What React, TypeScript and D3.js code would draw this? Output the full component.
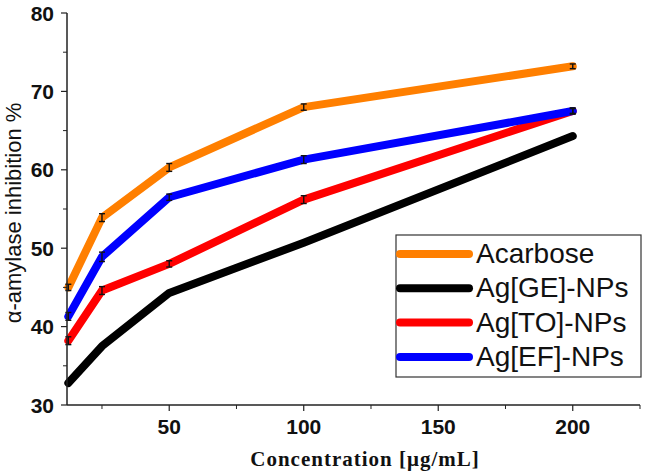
import React, { useEffect, useRef } from 'react';
import * as d3 from 'd3';

const concentrations = [12.5, 25, 50, 100, 200];
const seriesNames = ['Acarbose', 'Ag[GE]-NPs', 'Ag[TO]-NPs', 'Ag[EF]-NPs'];
const seriesColors = ['#FF7F00', '#000000', '#FF0000', '#0000FF'];
const acarbose = [45.0, 53.9, 60.3, 68.0, 73.2];
const acarboseErr = [0.4, 0.5, 0.5, 0.4, 0.3];
const agGE = [32.8, 37.5, 44.3, 50.7, 64.3];
const agGEErr = [0, 0, 0, 0, 0];
const agTO = [38.2, 44.6, 48.0, 56.2, 67.5];
const agTOErr = [0.5, 0.5, 0.4, 0.5, 0.3];
const agEF = [41.3, 48.9, 56.5, 61.3, 67.5];
const agEFErr = [0.5, 0.6, 0.4, 0.5, 0.4];
const xTicks = [50, 100, 150, 200];
const xMinor = [25, 75, 125, 175, 225];
const yTicks = [30, 40, 50, 60, 70, 80];
const yMinor = [35, 45, 55, 65, 75];

const App = () => {
  const svgRef = useRef<SVGSVGElement>(null);

  useEffect(() => {
    const width = 645;
    const height = 474;
    const svg = d3.select(svgRef.current)
      .attr('width', width)
      .attr('height', height);
    svg.selectAll('*').remove();

    const x = d3.scaleLinear().domain([12, 225]).range([67, 640]);
    const y = d3.scaleLinear().domain([30, 80]).range([405, 13]);

    const values = [acarbose, agGE, agTO, agEF];
    const errs = [acarboseErr, agGEErr, agTOErr, agEFErr];

    const line = d3.line<number>()
      .x((_, i) => x(concentrations[i]))
      .y(d => y(d));

    values.forEach((vals, s) => {
      svg.append('path')
        .attr('d', line(vals))
        .attr('fill', 'none')
        .attr('stroke', seriesColors[s])
        .attr('stroke-width', 8)
        .attr('stroke-linejoin', 'round')
        .attr('stroke-linecap', 'round');
    });

    // error bars
    values.forEach((vals, s) => {
      const g = svg.append('g').attr('stroke', '#111').attr('stroke-width', 1.4);
      vals.forEach((v, i) => {
        const e = errs[s][i];
        if (!e) return;
        const cx = x(concentrations[i]);
        g.append('line').attr('x1', cx).attr('x2', cx).attr('y1', y(v - e)).attr('y2', y(v + e));
        g.append('line').attr('x1', cx - 3).attr('x2', cx + 3).attr('y1', y(v - e)).attr('y2', y(v - e));
        g.append('line').attr('x1', cx - 3).attr('x2', cx + 3).attr('y1', y(v + e)).attr('y2', y(v + e));
      });
    });

    // axes
    const axisColor = '#222';
    svg.append('line')
      .attr('x1', x(12)).attr('x2', x(225)).attr('y1', y(30)).attr('y2', y(30))
      .attr('stroke', axisColor).attr('stroke-width', 1.5);
    svg.append('line')
      .attr('x1', x(12)).attr('x2', x(12)).attr('y1', y(30)).attr('y2', y(80))
      .attr('stroke', axisColor).attr('stroke-width', 1.5);

    xTicks.forEach(t => {
      svg.append('line').attr('x1', x(t)).attr('x2', x(t)).attr('y1', y(30)).attr('y2', y(30) + 6)
        .attr('stroke', axisColor).attr('stroke-width', 1.2);
      svg.append('text').attr('x', x(t)).attr('y', 434).attr('text-anchor', 'middle')
        .attr('font-family', 'Liberation Sans, Arial, sans-serif').attr('font-weight', 'bold')
        .attr('font-size', 21).attr('fill', '#111').text(t);
    });
    xMinor.forEach(t => {
      svg.append('line').attr('x1', x(t)).attr('x2', x(t)).attr('y1', y(30)).attr('y2', y(30) + 4)
        .attr('stroke', axisColor).attr('stroke-width', 1);
    });
    yTicks.forEach(t => {
      svg.append('line').attr('x1', x(12) - 6).attr('x2', x(12)).attr('y1', y(t)).attr('y2', y(t))
        .attr('stroke', axisColor).attr('stroke-width', 1.2);
      svg.append('text').attr('x', 54).attr('y', y(t) + 7.5).attr('text-anchor', 'end')
        .attr('font-family', 'Liberation Sans, Arial, sans-serif').attr('font-weight', 'bold')
        .attr('font-size', 21).attr('fill', '#111').text(t);
    });
    yMinor.forEach(t => {
      svg.append('line').attr('x1', x(12) - 4).attr('x2', x(12)).attr('y1', y(t)).attr('y2', y(t))
        .attr('stroke', axisColor).attr('stroke-width', 1);
    });

    svg.append('text')
      .attr('transform', `translate(21,${(y(30) + y(80)) / 2 + 4}) rotate(-90)`)
      .attr('text-anchor', 'middle')
      .attr('font-family', 'Liberation Sans, Arial, sans-serif')
      .attr('font-size', 22).attr('fill', '#111')
      .text('α-amylase inhibition %');

    svg.append('text')
      .attr('x', 365).attr('y', 466).attr('text-anchor', 'middle')
      .attr('font-family', 'Liberation Serif, Times New Roman, serif').attr('font-weight', 'bold')
      .attr('font-size', 21).attr('letter-spacing', 1).attr('fill', '#111')
      .text('Concentration [μg/mL]');

    // legend
    const legend = svg.append('g');
    legend.append('rect').attr('x', 396).attr('y', 235).attr('width', 245).attr('height', 142)
      .attr('fill', '#fff').attr('stroke', '#333').attr('stroke-width', 1.2);
    seriesNames.forEach((name, i) => {
      const ly = 254 + i * 34.3;
      legend.append('line').attr('x1', 400).attr('x2', 469).attr('y1', ly).attr('y2', ly)
        .attr('stroke', seriesColors[i]).attr('stroke-width', 8).attr('stroke-linecap', 'round');
      legend.append('text').attr('x', 476).attr('y', ly + 9)
        .attr('font-family', 'Liberation Sans, Arial, sans-serif')
        .attr('font-size', 28).attr('fill', '#111').text(name);
    });
  }, []);

  return <svg ref={svgRef} style={{ position: 'absolute', left: 0, top: 0 }}></svg>;
};

export default App;
